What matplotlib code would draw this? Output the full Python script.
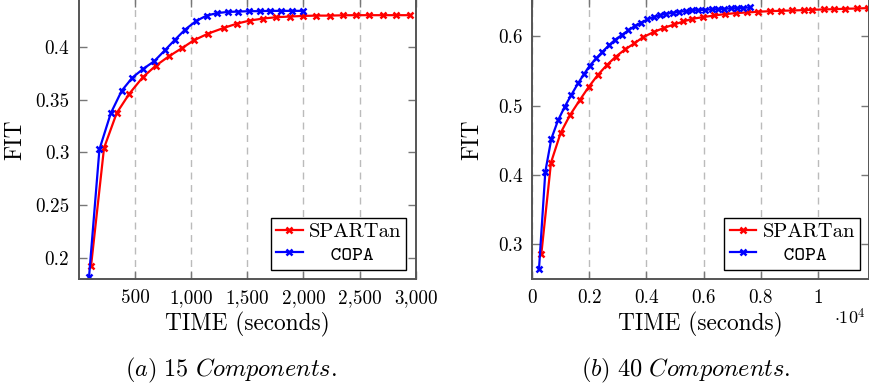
import matplotlib
matplotlib.use("Agg")
from matplotlib import pyplot as plt

plt.rcParams['font.family'] = ['cmr10', 'DejaVu Sans']
plt.rcParams['mathtext.fontset'] = 'cm'
plt.rcParams['axes.formatter.use_mathtext'] = True

# (a) 15 components
spartan15_t = [107, 223, 336, 449, 568, 682, 801, 920, 1024, 1152, 1289, 1411, 1521,
               1640, 1759, 1878, 1997, 2116, 2235, 2354, 2467, 2586, 2705, 2824, 2949]
spartan15_fit = [0.1918, 0.3041, 0.3373, 0.3557, 0.3712, 0.3820, 0.3911, 0.3990, 0.4063,
                 0.4127, 0.4180, 0.4222, 0.4250, 0.4269, 0.4282, 0.4288, 0.4294, 0.4297,
                 0.4297, 0.4300, 0.4301, 0.4301, 0.4301, 0.4301, 0.4301]
copa15_t = [89, 182, 283, 381, 476, 571, 670, 765, 857, 946, 1045, 1137, 1226, 1324,
            1420, 1512, 1610, 1702, 1801, 1896, 1994]
copa15_fit = [0.1813, 0.3028, 0.3370, 0.3585, 0.3709, 0.3791, 0.3864, 0.3968, 0.4070,
              0.4165, 0.4247, 0.4297, 0.4320, 0.4332, 0.4335, 0.4339, 0.4339, 0.4342,
              0.4342, 0.4342, 0.4342]

# (b) 40 components
spartan40_t = [316, 655, 994, 1320, 1660, 1980, 2290, 2610, 2920, 3250, 3570, 3880, 4270,
               4620, 4970, 5290, 5610, 5990, 6370, 6750, 7130, 7510, 7890, 8330, 8710,
               9110, 9500, 9810, 10200, 10580, 10970, 11370, 11750]
spartan40_fit = [0.286, 0.418, 0.461, 0.4865, 0.508, 0.5274, 0.5442, 0.5587, 0.5707, 0.5813,
                 0.5899, 0.599, 0.6067, 0.6125, 0.6173, 0.6216, 0.6255, 0.6279, 0.6303,
                 0.6322, 0.6337, 0.6346, 0.6356, 0.6365, 0.637, 0.6375, 0.638, 0.6385,
                 0.639, 0.6394, 0.6399, 0.6404, 0.6409]
copa40_t = [234, 456, 667, 900, 1135, 1370, 1600, 1810, 2010, 2246, 2456, 2680, 2900, 3130,
            3360, 3580, 3800, 4035, 4260, 4480, 4700, 4920, 5150, 5380, 5600, 5820, 6050,
            6280, 6500, 6725, 6950, 7170, 7390, 7626]
copa40_fit = [0.264, 0.4048, 0.4524, 0.4788, 0.4986, 0.5159, 0.5322, 0.5457, 0.5577, 0.5688,
              0.5779, 0.587, 0.5952, 0.6019, 0.6087, 0.6149, 0.6197, 0.6245, 0.6284, 0.6308,
              0.6327, 0.6341, 0.6356, 0.6365, 0.6375, 0.638, 0.6385, 0.639, 0.6394, 0.6399,
              0.6404, 0.6409, 0.6413, 0.6418]

xticks15 = [500, 1000, 1500, 2000, 2500, 3000]
xlabels15 = ['500', '1,000', '1,500', '2,000', '2,500', '3,000']
yticks15 = [0.2, 0.25, 0.3, 0.35, 0.4]
ylabels15 = ['0.2', '0.25', '0.3', '0.35', '0.4']
xticks40 = [0, 2000, 4000, 6000, 8000, 10000]
xlabels40 = ['0', '0.2', '0.4', '0.6', '0.8', '1']
yticks40 = [0.3, 0.4, 0.5, 0.6]
ylabels40 = ['0.3', '0.4', '0.5', '0.6']

W, H = 870, 392
fig = plt.figure(figsize=(W / 100, H / 100), dpi=100)

ax1 = fig.add_axes([79 / W, (H - 279) / H, (415.7 - 79) / W, 280 / H])
ax2 = fig.add_axes([532.3 / W, (H - 279) / H, (869.3 - 532.3) / W, 280 / H])


def style(ax, xt, xl, yt, yl):
    ax.set_xticks(xt)
    ax.set_xticklabels(xl)
    ax.set_yticks(yt)
    ax.set_yticklabels(yl)
    ax.tick_params(direction='in', length=6, width=1, color='#777777',
                   top=True, right=True, labelsize=13.8, pad=7)
    ax.xaxis.grid(True, ls=(0, (5, 4)), color='#bbbbbb', lw=1)
    for s in ax.spines.values():
        s.set_color('#555555')
        s.set_linewidth(1.4)


def draw(ax, t1, f1, t2, f2):
    ax.plot(t1, f1, color='#ff0000', lw=1.6, marker='x', ms=5, mew=1.8, label='SPARTan')
    ax.plot(t2, f2, color='#0000ff', lw=1.6, marker='x', ms=5, mew=1.8, label='  COPA')
    leg = ax.legend(loc='lower right', fontsize=14.8, frameon=True, fancybox=False,
                    framealpha=1, edgecolor='black', borderaxespad=0.45,
                    handlelength=1.3, handletextpad=0.3, borderpad=0.25,
                    labelspacing=0.2)
    leg.get_frame().set_linewidth(1.0)
    leg.get_texts()[1].set_family('cmtt10')


draw(ax1, spartan15_t, spartan15_fit, copa15_t, copa15_fit)
style(ax1, xticks15, xlabels15, yticks15, ylabels15)
ax1.set_xlim(0, 3000)
ax1.set_ylim(0.1798, 0.1798 + 280 / 1054)

draw(ax2, spartan40_t, spartan40_fit, copa40_t, copa40_fit)
style(ax2, xticks40, xlabels40, yticks40, ylabels40)
ax2.set_xlim(0, 11804)
ax2.set_ylim(0.25, 0.25 + 280 / 693)

for ax in (ax1, ax2):
    ax.set_xlabel('TIME (seconds)', fontsize=16.8, labelpad=4)

fig.text(15 / W, 1 - 140 / H, 'FIT', fontsize=16.8, rotation=90, ha='center', va='center')
fig.text(472 / W, 1 - 140 / H, 'FIT', fontsize=16.8, rotation=90, ha='center', va='center')
fig.text(850 / W, 1 - 317 / H, r'$\cdot 10^4$', fontsize=13, ha='center', va='center')

fig.text(231 / W, 1 - 370 / H, r'$\mathit{(a)\ 15\ Components.}$', fontsize=17.5,
         ha='center', va='center')
fig.text(686 / W, 1 - 370 / H, r'$\mathit{(b)\ 40\ Components.}$', fontsize=17.5,
         ha='center', va='center')

fig.savefig('out.png', dpi=100)
